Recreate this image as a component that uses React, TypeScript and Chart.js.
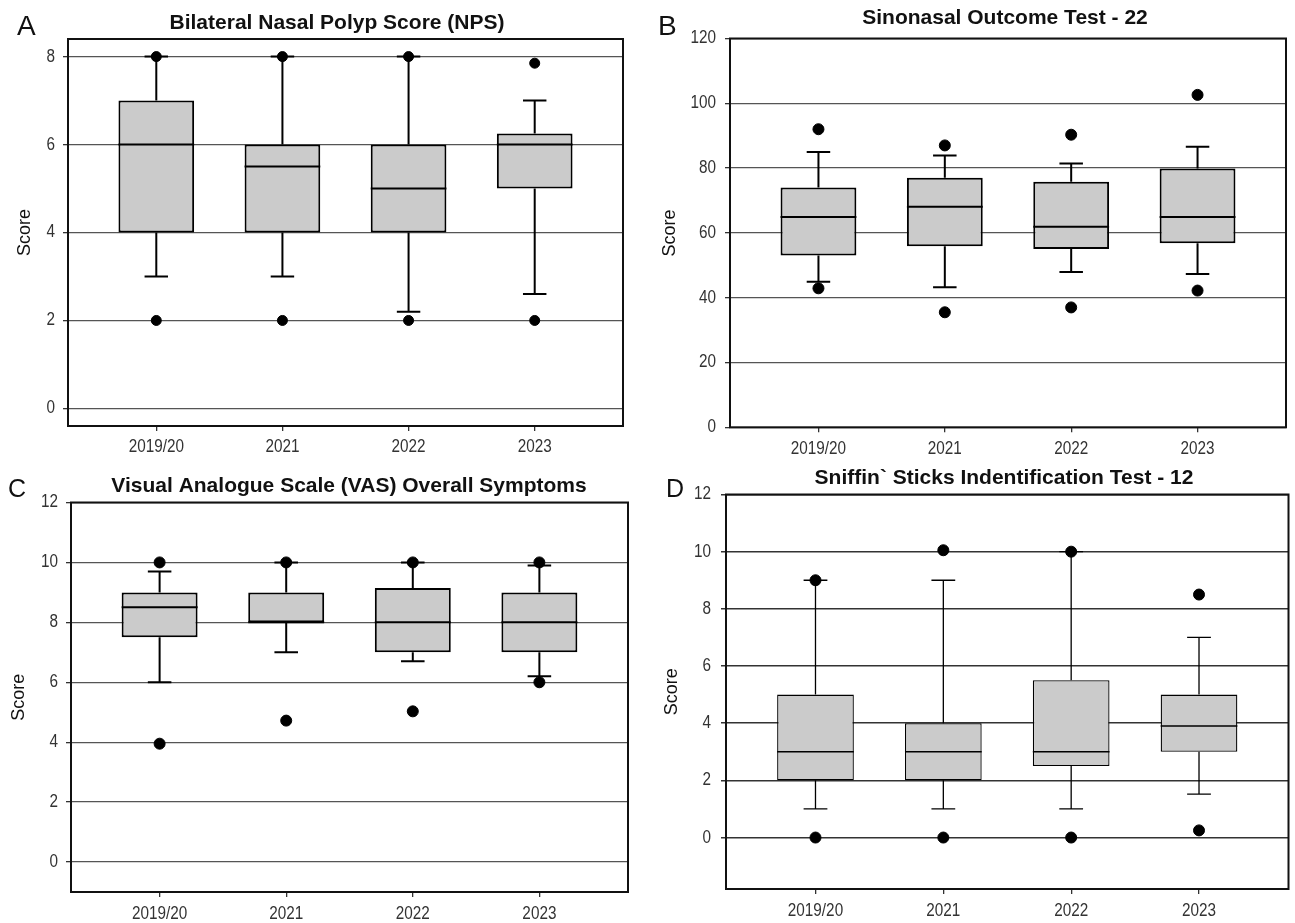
import React, { useEffect, useRef } from 'react';
import { Chart, registerables } from 'chart.js';

Chart.register(...registerables);

// ---------- DATA ----------
const CATEGORIES = ['2019/20', '2021', '2022', '2023'];

// A: Bilateral Nasal Polyp Score (NPS)
const A_TICKS = [0, 2, 4, 6, 8];
const A_Q1 = [4, 4, 4, 5];
const A_Q3 = [7, 6, 6, 6.25];
const A_MED = [6, 5.5, 5, 6];
const A_LO = [3, 3, 2.2, 2.6];
const A_HI = [8, 8, 8, 7];
const A_OUT = [[2, 8], [2, 8], [2, 8], [2, 7.85]];

// B: Sinonasal Outcome Test - 22
const B_TICKS = [0, 20, 40, 60, 80, 100, 120];
const B_Q1 = [53, 55.9, 55, 56.8];
const B_Q3 = [74, 77, 75.8, 79.9];
const B_MED = [64.9, 68.1, 61.9, 64.9];
const B_LO = [44.9, 43.2, 47.9, 47.3];
const B_HI = [85, 83.9, 81.4, 86.6];
const B_OUT = [[92, 42.9], [87, 35.5], [90.3, 37], [102.6, 42.2]];

// C: Visual Analogue Scale (VAS) Overall Symptoms
const C_TICKS = [0, 2, 4, 6, 8, 10, 12];
const C_Q1 = [7.5, 8, 7, 7];
const C_Q3 = [9, 9, 9.15, 9];
const C_MED = [8.5, 8, 8, 8];
const C_LO = [6, 7, 6.7, 6.2];
const C_HI = [9.7, 10, 10, 9.9];
const C_OUT = [[10, 3.95], [10, 4.72], [10, 5.03], [10, 6]];

// D: Sniffin` Sticks Indentification Test - 12
const D_TICKS = [0, 2, 4, 6, 8, 10, 12];
const D_Q1 = [2, 2, 2.5, 3];
const D_Q3 = [5, 4, 5.5, 5];
const D_MED = [3, 3, 3, 3.9];
const D_LO = [1, 1, 1, 1.52];
const D_HI = [9, 9, 10, 7];
const D_OUT = [[9, 0], [10.05, 0], [10, 0], [8.5, 0.25]];

const FONT = "'Liberation Sans', Arial, Helvetica, sans-serif";
const TICK_FONT_SIZE = 18;
const TICK_SQUEEZE = 0.85;

type Panel = {
  letter: string;
  title: string;
  ticks: number[];
  q1: number[];
  q3: number[];
  med: number[];
  lo: number[];
  hi: number[];
  out: number[][];
  yMin: number;
  yMax: number;
  canvas: { x: number; y: number; w: number; h: number };
  area: { l: number; t: number; r: number; b: number };
  yPad: number;
  xPad: number;
  titleX: number;
  titleY: number;
  letterX: number;
  letterY: number;
  letterSize: number;
  scoreX: number;
  lw: number;
  medLw: number;
  gridLw: number;
  gridColor: string;
  dotR: number;
};

const PANELS: Panel[] = [
  {
    letter: 'A', title: 'Bilateral Nasal Polyp Score (NPS)', ticks: A_TICKS,
    q1: A_Q1, q3: A_Q3, med: A_MED, lo: A_LO, hi: A_HI, out: A_OUT,
    yMin: -0.4, yMax: 8.4,
    canvas: { x: 0, y: 0, w: 647, h: 461 }, area: { l: 68, t: 39, r: 623, b: 426 },
    yPad: 8, xPad: 7, titleX: 337, titleY: 28.5, letterX: 17, letterY: 35, letterSize: 28,
    scoreX: 29.5, lw: 2, medLw: 2, gridLw: 1.3, gridColor: '#555', dotR: 5,
  },
  {
    letter: 'B', title: 'Sinonasal Outcome Test - 22', ticks: B_TICKS,
    q1: B_Q1, q3: B_Q3, med: B_MED, lo: B_LO, hi: B_HI, out: B_OUT,
    yMin: 0, yMax: 120,
    canvas: { x: 647, y: 0, w: 648, h: 461 }, area: { l: 730, t: 38.5, r: 1286, b: 427.3 },
    yPad: 9, xPad: 7.5, titleX: 1005, titleY: 24, letterX: 658, letterY: 35, letterSize: 28,
    scoreX: 674.5, lw: 2, medLw: 2, gridLw: 1.3, gridColor: '#555', dotR: 5.5,
  },
  {
    letter: 'C', title: 'Visual Analogue Scale (VAS) Overall Symptoms', ticks: C_TICKS,
    q1: C_Q1, q3: C_Q3, med: C_MED, lo: C_LO, hi: C_HI, out: C_OUT,
    yMin: -1, yMax: 12,
    canvas: { x: 0, y: 461, w: 647, h: 462 }, area: { l: 71, t: 502.5, r: 628, b: 892 },
    yPad: 8, xPad: 8, titleX: 349, titleY: 491.5, letterX: 8, letterY: 497, letterSize: 25,
    scoreX: 24, lw: 2, medLw: 2, gridLw: 1.3, gridColor: '#555', dotR: 5.5,
  },
  {
    letter: 'D', title: 'Sniffin` Sticks Indentification Test - 12', ticks: D_TICKS,
    q1: D_Q1, q3: D_Q3, med: D_MED, lo: D_LO, hi: D_HI, out: D_OUT,
    yMin: -1.8, yMax: 12,
    canvas: { x: 647, y: 461, w: 648, h: 462 }, area: { l: 726, t: 494.5, r: 1289.5, b: 889 },
    yPad: 10, xPad: 8, titleX: 1004, titleY: 484, letterX: 666, letterY: 497, letterSize: 25,
    scoreX: 677, lw: 1.3, medLw: 1.6, gridLw: 1.5, gridColor: '#333', dotR: 5.5,
  },
];

function makePlugin(p: Panel) {
  const ox = p.canvas.x;
  const oy = p.canvas.y;
  return {
    id: 'boxExtras' + p.letter,
    beforeDatasetsDraw(chart: any) {
      const ctx = chart.ctx;
      const xs = chart.scales.x;
      const ys = chart.scales.y;
      const meta = chart.getDatasetMeta(0);
      ctx.save();
      ctx.strokeStyle = '#000';
      ctx.lineWidth = p.lw;
      p.q1.forEach((_, i) => {
        const el = meta.data[i];
        const w = el ? el.width : 75;
        const x = xs.getPixelForValue(i);
        const cap = w * 0.31;
        const yHi = ys.getPixelForValue(p.hi[i]);
        const yLo = ys.getPixelForValue(p.lo[i]);
        const yQ1 = ys.getPixelForValue(p.q1[i]);
        const yQ3 = ys.getPixelForValue(p.q3[i]);
        ctx.beginPath();
        ctx.moveTo(x, yQ3); ctx.lineTo(x, yHi);
        ctx.moveTo(x - cap / 2, yHi); ctx.lineTo(x + cap / 2, yHi);
        ctx.moveTo(x, yQ1); ctx.lineTo(x, yLo);
        ctx.moveTo(x - cap / 2, yLo); ctx.lineTo(x + cap / 2, yLo);
        ctx.stroke();
      });
      ctx.restore();
    },
    afterDatasetDraw(chart: any, args: any) {
      if (args.index !== 0) return;
      const ctx = chart.ctx;
      const xs = chart.scales.x;
      const ys = chart.scales.y;
      const meta = chart.getDatasetMeta(0);
      ctx.save();
      ctx.strokeStyle = '#000';
      ctx.lineWidth = p.medLw;
      p.med.forEach((m, i) => {
        const el = meta.data[i];
        const w = el ? el.width : 75;
        const x = xs.getPixelForValue(i);
        const y = ys.getPixelForValue(m);
        ctx.beginPath();
        ctx.moveTo(x - w / 2, y);
        ctx.lineTo(x + w / 2, y);
        ctx.stroke();
      });
      ctx.restore();
    },
    afterDraw(chart: any) {
      const ctx = chart.ctx;
      const a = chart.chartArea;
      const xs = chart.scales.x;
      const ys = chart.scales.y;
      ctx.save();
      ctx.strokeStyle = '#111';
      ctx.lineWidth = 2;
      ctx.strokeRect(a.left, a.top, a.right - a.left, a.bottom - a.top);

      // tick labels (slightly condensed, as in the original figure)
      ctx.fillStyle = '#333';
      ctx.font = `${TICK_FONT_SIZE}px ${FONT}`;
      ctx.textBaseline = 'middle';
      ctx.textAlign = 'right';
      ys.ticks.forEach((t: any) => {
        const y = ys.getPixelForValue(t.value);
        ctx.save();
        ctx.translate(a.left - 5 - p.yPad, y);
        ctx.scale(TICK_SQUEEZE, 1);
        ctx.fillText(String(t.value), 0, 0);
        ctx.restore();
      });
      ctx.textAlign = 'center';
      xs.ticks.forEach((t: any) => {
        const x = xs.getPixelForValue(t.value);
        ctx.save();
        ctx.translate(x, a.bottom + 5 + p.xPad + 9);
        ctx.scale(TICK_SQUEEZE, 1);
        ctx.fillText(CATEGORIES[Math.round(t.value)] ?? '', 0, 0);
        ctx.restore();
      });

      ctx.fillStyle = '#111';
      ctx.textBaseline = 'alphabetic';
      ctx.font = `bold 21px ${FONT}`;
      ctx.textAlign = 'center';
      ctx.fillText(p.title, p.titleX - ox, p.titleY - oy);
      ctx.font = `${p.letterSize}px ${FONT}`;
      ctx.textAlign = 'left';
      ctx.fillText(p.letter, p.letterX - ox, p.letterY - oy);
      ctx.font = `18px ${FONT}`;
      ctx.textAlign = 'center';
      ctx.translate(p.scoreX - ox, (a.top + a.bottom) / 2);
      ctx.rotate(-Math.PI / 2);
      ctx.fillText('Score', 0, 0);
      ctx.restore();
    },
  };
}

function PanelChart({ p }: { p: Panel }) {
  const ref = useRef<HTMLCanvasElement | null>(null);
  useEffect(() => {
    if (!ref.current) return;
    const boxes = CATEGORIES.map((_, i) => ({ x: i, y: [p.q1[i], p.q3[i]] }));
    const dots: { x: number; y: number }[] = [];
    p.out.forEach((vals, i) => vals.forEach((v) => dots.push({ x: i, y: v })));
    const yWidth = p.area.l - p.canvas.x;
    const xHeight = p.canvas.y + p.canvas.h - p.area.b;
    const chart = new Chart(ref.current, {
      type: 'bar',
      data: {
        datasets: [
          {
            type: 'bar',
            data: boxes as any,
            backgroundColor: '#cbcbcb',
            borderColor: '#000',
            borderWidth: p.lw,
            borderSkipped: false,
            barPercentage: 0.6,
            categoryPercentage: 1,
            order: 0,
          } as any,
          {
            type: 'scatter',
            data: dots,
            backgroundColor: '#000',
            borderColor: '#000',
            pointRadius: p.dotR,
            pointHoverRadius: p.dotR,
            showLine: false,
            order: -1,
          } as any,
        ],
      },
      options: {
        responsive: false,
        animation: false,
        events: [],
        layout: {
          padding: {
            left: 0,
            top: p.area.t - p.canvas.y,
            right: p.canvas.x + p.canvas.w - p.area.r,
            bottom: 0,
          },
        },
        plugins: {
          legend: { display: false },
          tooltip: { enabled: false },
          title: { display: false },
        },
        scales: {
          x: {
            type: 'linear',
            min: -0.7,
            max: 3.7,
            offset: false,
            afterBuildTicks: (s: any) => {
              s.ticks = CATEGORIES.map((_, i) => ({ value: i }));
            },
            afterFit: (s: any) => {
              s.height = xHeight;
            },
            ticks: { display: false },
            grid: {
              offset: false,
              drawOnChartArea: false,
              drawTicks: true,
              tickLength: 5,
              color: '#333',
              lineWidth: 1.3,
            },
            border: { display: false },
          },
          y: {
            type: 'linear',
            min: p.yMin,
            max: p.yMax,
            afterBuildTicks: (s: any) => {
              s.ticks = p.ticks.map((v) => ({ value: v }));
            },
            afterFit: (s: any) => {
              s.width = yWidth;
            },
            ticks: { display: false },
            grid: {
              drawOnChartArea: true,
              drawTicks: true,
              tickLength: 5,
              color: p.gridColor,
              tickColor: '#333',
              lineWidth: p.gridLw,
            },
            border: { display: false },
          },
        },
      } as any,
      plugins: [makePlugin(p)],
    });
    return () => chart.destroy();
  }, [p]);
  return (
    <canvas
      ref={ref}
      width={p.canvas.w}
      height={p.canvas.h}
      style={{
        position: 'absolute',
        left: p.canvas.x,
        top: p.canvas.y,
        width: p.canvas.w,
        height: p.canvas.h,
      }}
    />
  );
}

export default function App() {
  return (
    <div
      style={{
        position: 'absolute',
        left: 0,
        top: 0,
        width: 1295,
        height: 923,
        background: '#ffffff',
        overflow: 'hidden',
      }}
    >
      {PANELS.map((p) => (
        <PanelChart key={p.letter} p={p} />
      ))}
    </div>
  );
}
